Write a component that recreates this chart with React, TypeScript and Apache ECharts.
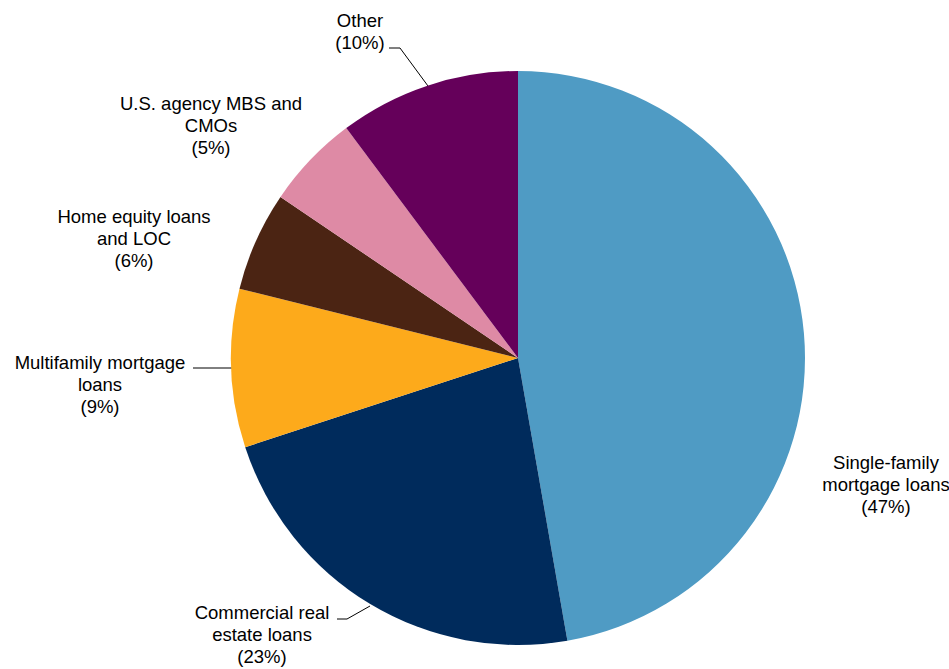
import React, { useEffect, useRef } from "react";
import * as echarts from "echarts";

const categories = [
  "Single-family\nmortgage loans",
  "Commercial real\nestate loans",
  "Multifamily mortgage\nloans",
  "Home equity loans\nand LOC",
  "U.S. agency MBS and\nCMOs",
  "Other",
];
const values = [47.2, 22.7, 8.9, 5.6, 5.3, 10.2];
const colors = ["#4F9BC4", "#002B5C", "#FDAA1B", "#4B2413", "#DE8AA5", "#65005A"];

// label placement (center of text block) and optional leader lines
const labelSpots: { x: number; y: number; line?: number[][] }[] = [
  { x: 886, y: 484 },
  { x: 262, y: 634, line: [[370, 606], [347, 619], [337, 619]] },
  { x: 100, y: 384, line: [[233, 368], [213, 368], [193, 368]] },
  { x: 134, y: 238 },
  { x: 211, y: 125 },
  { x: 360, y: 31, line: [[428, 86], [400, 48], [389, 48]] },
];

export default function App() {
  const ref = useRef<HTMLDivElement>(null);
  useEffect(() => {
    document.body.style.margin = "0";
    const chart = echarts.init(ref.current!, undefined, { renderer: "svg" });
    chart.setOption({
      animation: false,
      backgroundColor: "#ffffff",
      series: [
        {
          type: "pie",
          center: [518, 358],
          radius: 287,
          startAngle: 90,
          clockwise: true,
          percentPrecision: 0,
          avoidLabelOverlap: false,
          data: categories.map((name, i) => ({
            name,
            value: values[i],
            itemStyle: { color: colors[i] },
            labelLine: { show: !!labelSpots[i].line },
          })),
          label: {
            show: true,
            position: "outside",
            formatter: "{b}\n({d}%)",
            color: "#000000",
            fontFamily: "Liberation Sans, Arial, sans-serif",
            fontSize: 18.5,
            lineHeight: 22,
            align: "center",
          },
          labelLine: {
            show: true,
            lineStyle: { color: "#000000", width: 1 },
          },
          labelLayout: (params: any) => {
            const s = labelSpots[params.dataIndex];
            const out: any = {
              x: s.x,
              y: s.y,
              align: "center",
              verticalAlign: "middle",
            };
            if (s.line) out.labelLinePoints = s.line;
            return out;
          },
          emphasis: { disabled: true },
        },
      ],
    });
    return () => chart.dispose();
  }, []);
  return <div ref={ref} style={{ width: 949, height: 669 }} />;
}
